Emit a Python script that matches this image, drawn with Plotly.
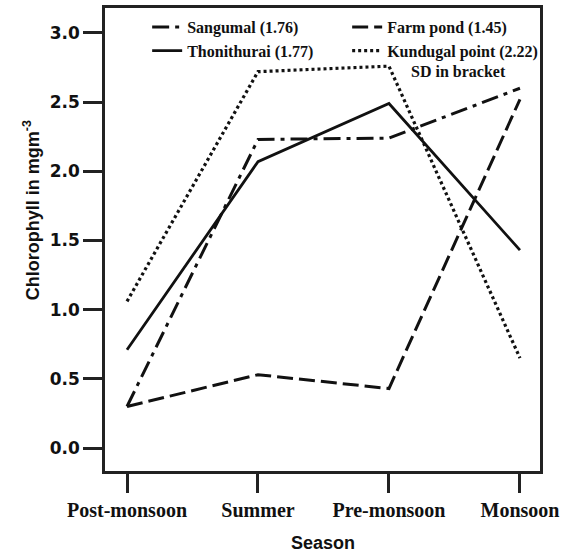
import plotly.graph_objects as go

seasons = ["Post-monsoon", "Summer", "Pre-monsoon", "Monsoon"]
sangumal = [0.30, 2.23, 2.24, 2.60]
farm_pond = [0.30, 0.53, 0.43, 2.52]
thonithurai = [0.71, 2.07, 2.49, 1.43]
kundugal = [1.06, 2.72, 2.76, 0.65]

names = ["Sangumal (1.76)", "Farm pond (1.45)", "Thonithurai (1.77)", "Kundugal point (2.22)"]
series = [sangumal, farm_pond, thonithurai, kundugal]
dashes = ["17px,6px,4px,6px", "16px,6px", "solid", "3px,3px"]
widths = [3, 3, 2.8, 3.2]

W, H = 564, 554
ml, mr, mt, mb = 105, 5, 8, 83
pw, ph = W - ml - mr, H - mt - mb

def px2x(p):
    return (p - ml) / pw

def py2y(p):
    return (H - mb - p) / ph

fig = go.Figure()
for n, s, d, w in zip(names, series, dashes, widths):
    fig.add_trace(go.Scatter(x=seasons, y=s, name=n, mode="lines",
                             line=dict(color="#111111", width=w, dash=d)))

fig.update_layout(
    width=W, height=H,
    margin=dict(l=ml, r=mr, t=mt, b=mb),
    paper_bgcolor="white", plot_bgcolor="white",
    showlegend=True,
    legend=dict(orientation="h", x=px2x(149), y=py2y(10), xanchor="left", yanchor="top",
                entrywidth=155, entrywidthmode="pixels",
                bgcolor="rgba(0,0,0,0)", borderwidth=0,
                font=dict(family="Liberation Serif", size=16, color="#111111", weight="bold"),
                tracegroupgap=0),
    xaxis=dict(type="category", range=[-0.168, 3.153], showgrid=False, zeroline=False,
               showline=True, linecolor="#222222", linewidth=2.5, mirror=True,
               ticks="outside", ticklen=19, tickwidth=2.5, tickcolor="#222222",
               tickfont=dict(family="Liberation Serif", size=20, color="#111111", weight="bold")),
    yaxis=dict(range=[-0.166, 3.18], showgrid=False, zeroline=False,
               showline=True, linecolor="#222222", linewidth=2.5, mirror=True,
               ticks="outside", ticklen=19, tickwidth=2.5, tickcolor="#222222",
               tickvals=[0, 0.5, 1.0, 1.5, 2.0, 2.5, 3.0], tickformat=".1f",
               tickfont=dict(family="DejaVu Sans", size=17, color="#111111", weight="bold")),
)

fig.add_annotation(text="Chlorophyll in mgm<sup>-3</sup>", xref="paper", yref="paper",
                   x=px2x(28), y=py2y(210), xanchor="center", yanchor="middle",
                   textangle=-90, showarrow=False,
                   font=dict(family="Liberation Sans", size=18, color="#111111", weight="bold"))
fig.add_annotation(text="Season", xref="paper", yref="paper",
                   x=px2x(333), y=py2y(543), xanchor="center", yanchor="middle",
                   showarrow=False,
                   font=dict(family="Liberation Sans", size=18, color="#111111", weight="bold"))
fig.add_annotation(text="SD in bracket", xref="paper", yref="paper",
                   x=px2x(474), y=py2y(71), xanchor="center", yanchor="middle",
                   showarrow=False,
                   font=dict(family="Liberation Serif", size=16, color="#111111", weight="bold"))

fig.write_html("out.html")
